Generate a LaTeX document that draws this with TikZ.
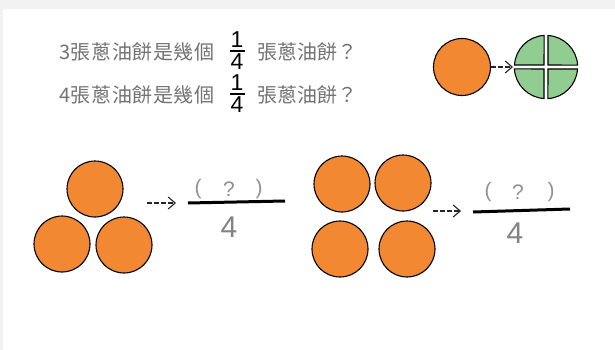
\documentclass[tikz,border=0pt]{standalone}
\usepackage{fontspec}
\setmainfont{Liberation Sans}
\newfontfamily\cjk{Noto Sans CJK TC}
\usetikzlibrary{arrows.meta}
\definecolor{pie}{RGB}{242,137,50}
\definecolor{quart}{RGB}{145,205,145}
\definecolor{txtgray}{RGB}{115,115,115}
\definecolor{ltgray}{RGB}{145,145,145}
\tikzset{
  cake/.style={circle,draw=black,line width=1.1pt,fill=pie,minimum size=56pt,inner sep=0pt},
  qtxt/.style={font=\cjk\fontsize{20}{22}\selectfont,text=txtgray,inner sep=0pt},
  fnum/.style={font=\fontsize{23}{24}\selectfont,text=black,inner sep=0pt},
  arr/.style={dash pattern=on 4.5pt off 2.5pt,line width=1.1pt,draw=black!85,-{Straight Barb[length=7pt,width=12pt,line width=1.1pt]}},
  bar/.style={line width=3pt,draw=black},
  blank/.style={font=\fontsize{21}{22}\selectfont,text=ltgray,inner sep=0pt},
  den/.style={font=\fontsize{30}{32}\selectfont,text=ltgray!90!black,inner sep=0pt},
  quarter/.style={draw=black,line width=1.1pt,fill=quart}
}
\begin{document}
\begin{tikzpicture}[x=1pt,y=-1pt]
\useasboundingbox (0,0) rectangle (615,350);
\fill[white] (0,0) rectangle (615,350);
\fill[black!5] (0,0) rectangle (615,9);
\fill[black!5] (0,0) rectangle (3,350);
% question lines
\node[qtxt,anchor=west,font=\cjk\fontsize{20}{22}\selectfont\addfontfeature{LetterSpace=3}] (q1a) at (59,52) {3張蔥油餅是幾個};
\node[fnum] (q1n) at (237,40) {1};
\node[fnum] (q1d) at (237,62) {4};
\draw[line width=1.1pt] (230,51) -- (244.5,51);
\node[qtxt,anchor=west] (q1b) at (257,52) {張蔥油餅？};
\node[qtxt,anchor=west,font=\cjk\fontsize{20}{22}\selectfont\addfontfeature{LetterSpace=3}] (q2a) at (59,95) {4張蔥油餅是幾個};
\node[fnum] (q2n) at (237,83) {1};
\node[fnum] (q2d) at (237,105) {4};
\draw[line width=1.1pt] (230,94) -- (244.5,94);
\node[qtxt,anchor=west] (q2b) at (257,95) {張蔥油餅？};
% top right
\node[cake,minimum size=57pt] (whole) at (462,67) {};
\coordinate (gc) at (546,67);
\coordinate (gw) at (513,67);
\draw[arr] (whole.east) -- (gw);
\begin{scope}[shift={(gc)}]
\draw[quarter] (2,-2) -- (2,-31.5) arc[start angle=-86.5,end angle=-3.5,radius=31.6] -- cycle;
\draw[quarter] (-2,-2) -- (-31.5,-2) arc[start angle=-176.5,end angle=-93.5,radius=31.6] -- cycle;
\draw[quarter] (2,2) -- (31.5,2) arc[start angle=3.5,end angle=86.5,radius=31.6] -- cycle;
\draw[quarter] (-2,2) -- (-2,31.5) arc[start angle=93.5,end angle=176.5,radius=31.6] -- cycle;
\end{scope}
% bottom left group
\node[cake] (c1) at (95,189) {};
\node[cake] (c2) at (62,244) {};
\node[cake] (c3) at (124,245) {};
\coordinate (a1s) at (147,203);
\coordinate (a1e) at (176,203);
\draw[arr] (a1s) -- (a1e);
\coordinate (b1s) at (188,203);
\coordinate (b1e) at (285,201);
\draw[bar] (b1s) -- (b1e);
\node[blank] (p1l) at (198,189) {(};
\node[blank] (p1q) at (229,189) {?};
\node[blank] (p1r) at (259,189) {)};
\node[den] (d1) at (229,227) {4};
% bottom right group
\node[cake] (c4) at (342,184) {};
\node[cake] (c5) at (403,183) {};
\node[cake] (c6) at (340,249) {};
\node[cake] (c7) at (407,249) {};
\coordinate (a2s) at (433,211);
\coordinate (a2e) at (461,211);
\draw[arr] (a2s) -- (a2e);
\coordinate (b2s) at (473,212);
\coordinate (b2e) at (570,209);
\draw[bar] (b2s) -- (b2e);
\node[blank] (p2l) at (488,192) {(};
\node[blank] (p2q) at (518,192) {?};
\node[blank] (p2r) at (551,192) {)};
\node[den] (d2) at (515,233) {4};
\end{tikzpicture}
\end{document}
